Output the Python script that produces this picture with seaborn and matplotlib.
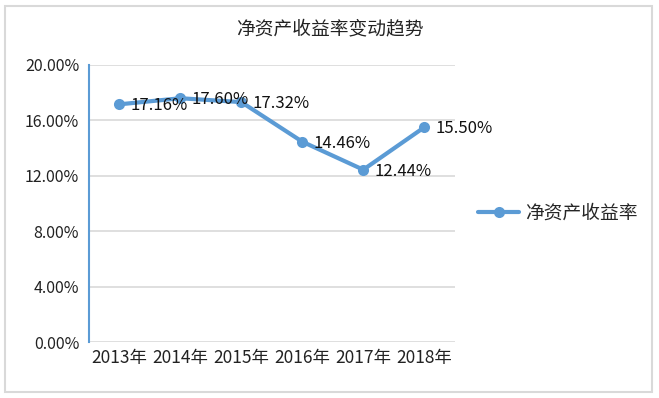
import numpy as np
import pandas as pd
import seaborn as sns
import matplotlib.pyplot as plt
from matplotlib.patches import Rectangle
from matplotlib.lines import Line2D

years = ['2013年', '2014年', '2015年', '2016年', '2017年', '2018年']
roe = [17.16, 17.60, 17.32, 14.46, 12.44, 15.50]
yticks = [0, 4, 8, 12, 16, 20]

sns.set_theme(style="white")
plt.rcParams['font.family'] = ['Noto Sans CJK SC', 'DejaVu Sans']

line_color = '#5B9BD5'
df = pd.DataFrame({'year': years, 'x': np.arange(len(years)), 'roe': roe})

fig = plt.figure(figsize=(6.59, 3.98), dpi=100)
ax = fig.add_axes([0.135, 0.1407, 0.555, 0.696])
sns.lineplot(data=df, x='x', y='roe', ax=ax, color=line_color, linewidth=3,
             marker='o', markersize=8, markeredgewidth=0, legend=False)

ax.set_xlim(-0.5, len(years) - 0.5)
ax.set_ylim(0, 20)
ax.set_yticks(yticks)
ax.set_yticklabels(['%.2f%%' % v for v in yticks], fontsize=11.5, color='#222222')
ax.set_xticks(df['x'])
ax.set_xticklabels(years, fontsize=12.5, color='#222222')
ax.tick_params(axis='y', length=0, pad=7)
ax.tick_params(axis='x', length=0, pad=5)
ax.set_xlabel('')
ax.set_ylabel('')
ax.grid(axis='y', color='#D9D9D9', linewidth=1.2)
ax.set_axisbelow(True)
for s in ['top', 'right', 'bottom']:
    ax.spines[s].set_visible(False)
ax.spines['left'].set_color(line_color)
ax.spines['left'].set_linewidth(1.5)

for xi, v in zip(df['x'], roe):
    ax.annotate('%.2f%%' % v, (xi, v), xytext=(8, -1), textcoords='offset points',
                ha='left', va='center', fontsize=12, color='#111111')

fig.suptitle('净资产收益率变动趋势', y=0.955, fontsize=13.5, color='#222222')

handle = Line2D([], [], color=line_color, linewidth=3, marker='o', markersize=8,
                markeredgewidth=0)
fig.legend([handle], ['净资产收益率'], loc='center left', bbox_to_anchor=(0.70, 0.465),
           frameon=False, fontsize=13.5, handlelength=2.2, handletextpad=0.3)

fig.patches.append(Rectangle((0.008, 0.015), 0.982, 0.97, transform=fig.transFigure,
                             fill=False, edgecolor='#D9D9D9', linewidth=1.5))

fig.savefig('out.png', dpi=100)
